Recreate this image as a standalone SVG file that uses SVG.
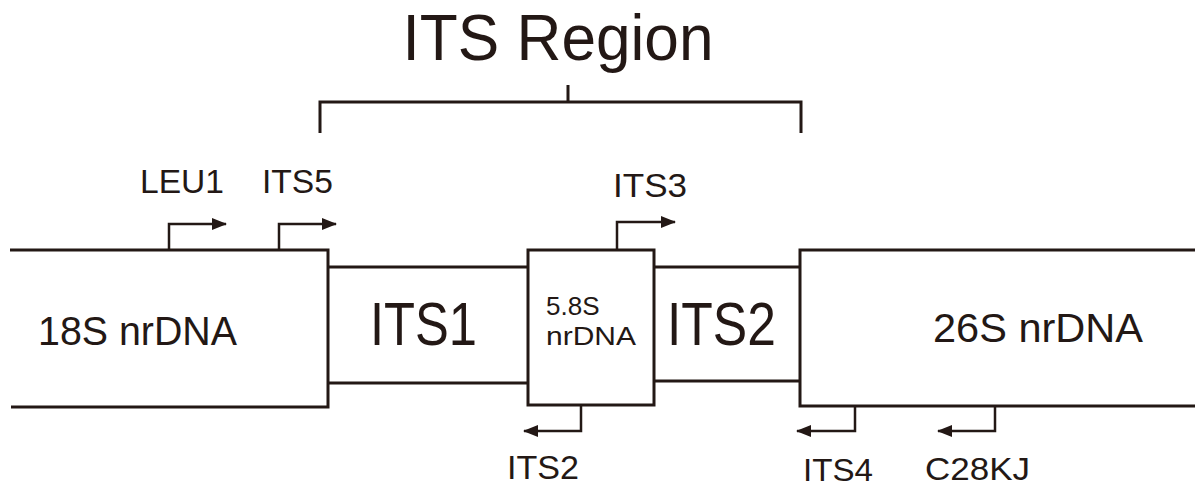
<svg xmlns="http://www.w3.org/2000/svg" width="1195" height="488" viewBox="0 0 1195 488">
<defs>
<style>
.ln{fill:none;stroke:#231815;stroke-width:3;stroke-linejoin:miter;stroke-linecap:butt}
.ar{fill:none;stroke:#231815;stroke-width:2.5}
text{font-family:"Liberation Sans",Arial,sans-serif;fill:#231815}
</style>
<marker id="ah" viewBox="0 0 15 12" refX="14" refY="6" markerWidth="15" markerHeight="12" markerUnits="userSpaceOnUse" orient="auto">
<path d="M0,0 L15,6 L0,12 Z" fill="#231815"/>
</marker>
</defs>
<rect width="1195" height="488" fill="#fff"/>
<text x="558" y="60" font-size="64" text-anchor="middle" textLength="311" lengthAdjust="spacingAndGlyphs">ITS Region</text>
<g id="bracket">
<path class="ln" d="M320,133 V102 H801 V133 M568,102 V85"/>
</g>
<g id="n18S">
<path class="ln" d="M10,250 H328 V407 H11"/>
<text x="38" y="345" font-size="40" textLength="199" lengthAdjust="spacingAndGlyphs">18S nrDNA</text>
</g>
<g id="ITS1">
<path class="ln" d="M328,267 H528 M328,383 H528"/>
<text x="370" y="345" font-size="62" textLength="107" lengthAdjust="spacingAndGlyphs">ITS1</text>
</g>
<g id="n58S">
<rect class="ln" x="528" y="250" width="126" height="155"/>
<text x="546" y="315" font-size="26">5.8S</text>
<text x="546" y="345" font-size="26" textLength="90" lengthAdjust="spacingAndGlyphs">nrDNA</text>
</g>
<g id="ITS2">
<path class="ln" d="M654,267 H800 M654,381 H800"/>
<text x="667" y="345" font-size="62" textLength="109" lengthAdjust="spacingAndGlyphs">ITS2</text>
</g>
<g id="n26S">
<path class="ln" d="M1195,250 H800 V406 H1195"/>
<text x="933" y="342" font-size="41" textLength="210" lengthAdjust="spacingAndGlyphs">26S nrDNA</text>
</g>
<g id="connectors">
<path class="ar" d="M169,250 V224 H226" marker-end="url(#ah)"/>
<path class="ar" d="M279,250 V224 H336" marker-end="url(#ah)"/>
<path class="ar" d="M617,250 V222 H675" marker-end="url(#ah)"/>
<path class="ar" d="M581,405 V431 H524" marker-end="url(#ah)"/>
<path class="ar" d="M855,406 V431 H797" marker-end="url(#ah)"/>
<path class="ar" d="M995,406 V431 H938" marker-end="url(#ah)"/>
</g>
<g id="labels">
<text x="140" y="193" font-size="33" textLength="84" lengthAdjust="spacingAndGlyphs">LEU1</text>
<text x="262" y="193" font-size="33" textLength="71" lengthAdjust="spacingAndGlyphs">ITS5</text>
<text x="613" y="197" font-size="33" textLength="74" lengthAdjust="spacingAndGlyphs">ITS3</text>
<text x="507" y="479" font-size="33" textLength="72" lengthAdjust="spacingAndGlyphs">ITS2</text>
<text x="803" y="481" font-size="32" textLength="70" lengthAdjust="spacingAndGlyphs">ITS4</text>
<text x="925" y="480" font-size="32" textLength="105" lengthAdjust="spacingAndGlyphs">C28KJ</text>
</g>
</svg>
